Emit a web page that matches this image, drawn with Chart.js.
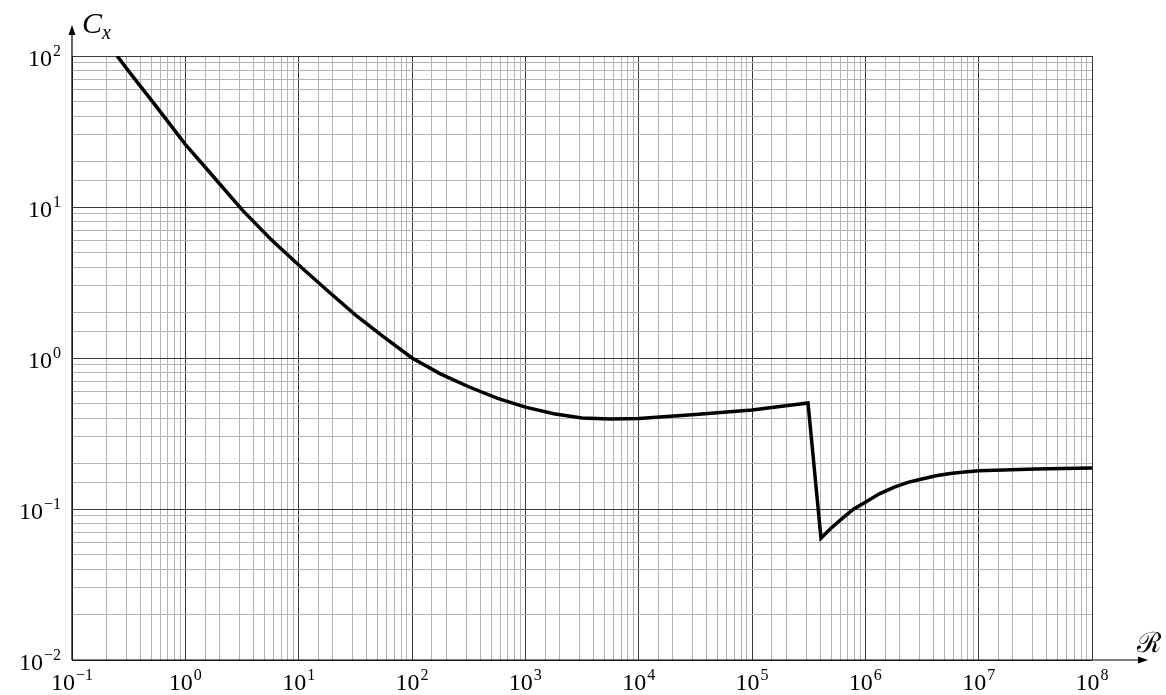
<!DOCTYPE html>
<html>
<head>
<meta charset="utf-8">
<style>
    html, body { margin: 0; padding: 0; background: #ffffff; }
    canvas { display: block; }
</style>
<script src="https://cdn.jsdelivr.net/npm/chart.js@4.4.0/dist/chart.umd.min.js"></script>
</head>
<body>
<canvas id="lineChart" width="1166" height="695"></canvas>
<script>
// Reynolds number (x) and drag coefficient Cx (y)
let ReValues = [0.25, 0.316, 0.562, 1, 1.78, 3.16, 5.62, 10, 17.8, 31.6, 56.2, 100, 178, 316, 562, 1000, 1780, 3160, 5620, 1e4, 3.16e4, 1e5, 3.12e5, 4.06e5, 5e5, 6.3e5, 7.9e5, 1e6, 1.33e6, 1.78e6, 2.37e6, 3.16e6, 4.2e6, 5.62e6, 7.5e6, 1e7, 3.16e7, 1e8];
let CxValues = [100, 79.4, 45.7, 26.0, 15.8, 9.6, 6.17, 4.13, 2.81, 1.93, 1.38, 1.0, 0.785, 0.645, 0.543, 0.473, 0.427, 0.401, 0.394, 0.398, 0.422, 0.453, 0.504, 0.064, 0.0748, 0.087, 0.1, 0.111, 0.126, 0.139, 0.15, 0.158, 0.166, 0.172, 0.176, 0.179, 0.184, 0.187];

let xTickExponents = [-1, 0, 1, 2, 3, 4, 5, 6, 7, 8];
let yTickExponents = [-2, -1, 0, 1, 2];

const jFIsDecade = (inValue) => {
    let jVarLocalLog = Math.log10(inValue);
    return Math.abs(jVarLocalLog - Math.round(jVarLocalLog)) < 1e-6;
};

const jFGridColor = (ctx) => {
    if (ctx.tick === undefined) return '#b3b3b3';
    return jFIsDecade(ctx.tick.value) ? '#3a3a3a' : '#b3b3b3';
};

const jFPowerLabel = ({ ctx, exp, x, y, align }) => {
    let jVarLocalBase = '10';
    let jVarLocalExp = String(exp).replace('-', '\u2212');
    ctx.font = '24px "Liberation Serif"';
    let jVarLocalBaseW = ctx.measureText(jVarLocalBase).width;
    ctx.font = '16px "Liberation Serif"';
    let jVarLocalExpW = ctx.measureText(jVarLocalExp).width;
    let jVarLocalTotal = jVarLocalBaseW + jVarLocalExpW + 1;
    let jVarLocalStart = align === 'center' ? x - jVarLocalTotal / 2 : x - jVarLocalTotal;

    ctx.textAlign = 'left';
    ctx.textBaseline = 'alphabetic';
    ctx.font = '24px "Liberation Serif"';
    ctx.fillText(jVarLocalBase, jVarLocalStart, y);
    ctx.font = '16px "Liberation Serif"';
    ctx.fillText(jVarLocalExp, jVarLocalStart + jVarLocalBaseW + 1, y - 10);
};

const axesPlugin = {
    id: 'axesPlugin',
    afterDraw: (chart) => {
        const ctx = chart.ctx;
        const area = chart.chartArea;
        const xScale = chart.scales.x;
        const yScale = chart.scales.y;

        ctx.save();
        ctx.fillStyle = '#000000';
        ctx.strokeStyle = '#000000';
        ctx.lineWidth = 1.2;

        // axis lines with arrows
        ctx.beginPath();
        ctx.moveTo(area.left, area.bottom);
        ctx.lineTo(area.left, 34);
        ctx.moveTo(area.left, area.bottom);
        ctx.lineTo(1139, area.bottom);
        ctx.stroke();

        ctx.beginPath();
        ctx.moveTo(area.left, 25);
        ctx.lineTo(area.left - 3.5, 35);
        ctx.lineTo(area.left + 3.5, 35);
        ctx.closePath();
        ctx.fill();

        ctx.beginPath();
        ctx.moveTo(1148, area.bottom);
        ctx.lineTo(1138, area.bottom - 3.5);
        ctx.lineTo(1138, area.bottom + 3.5);
        ctx.closePath();
        ctx.fill();

        // tick labels
        xTickExponents.forEach((exp) => {
            let jVarLocalX = xScale.getPixelForValue(Math.pow(10, exp));
            jFPowerLabel({ ctx, exp, x: jVarLocalX, y: 690, align: 'center' });
        });

        yTickExponents.forEach((exp) => {
            let jVarLocalY = yScale.getPixelForValue(Math.pow(10, exp));
            jFPowerLabel({ ctx, exp, x: 61, y: jVarLocalY + 10, align: 'right' });
        });

        // axis titles
        ctx.textAlign = 'left';
        ctx.textBaseline = 'alphabetic';
        ctx.font = 'italic 30px "Liberation Serif"';
        ctx.fillText('C', 82, 33);
        ctx.font = 'italic 20px "Liberation Serif"';
        ctx.fillText('x', 102, 39);

        ctx.font = '28px "DejaVu Serif"';
        ctx.fillText('\u211B', 1137, 652);

        ctx.restore();
    }
};

const StartFunc = () => {
    const ctx = document.getElementById('lineChart');

    let jVarLocalPoints = ReValues.map((re, i) => ({ x: re, y: CxValues[i] }));

    new Chart(ctx, {
        type: 'line',
        data: {
            datasets: [{
                label: 'Cx',
                data: jVarLocalPoints,
                borderColor: '#000000',
                borderWidth: 3.5,
                pointRadius: 0,
                fill: false,
                tension: 0
            }]
        },
        options: {
            responsive: false,
            animation: false,
            devicePixelRatio: 1,
            layout: {
                padding: { left: 72, right: 74, top: 56, bottom: 35 }
            },
            plugins: {
                legend: { display: false },
                tooltip: { enabled: false }
            },
            scales: {
                x: {
                    type: 'logarithmic',
                    min: 0.1,
                    max: 1e8,
                    border: { display: false },
                    grid: { color: jFGridColor, lineWidth: 1, drawTicks: false },
                    ticks: { display: false, autoSkip: false }
                },
                y: {
                    type: 'logarithmic',
                    min: 0.01,
                    max: 100,
                    border: { display: false },
                    grid: { color: jFGridColor, lineWidth: 1, drawTicks: false },
                    ticks: { display: false, autoSkip: false }
                }
            }
        },
        plugins: [axesPlugin]
    });
};

StartFunc();
</script>
</body>
</html>
